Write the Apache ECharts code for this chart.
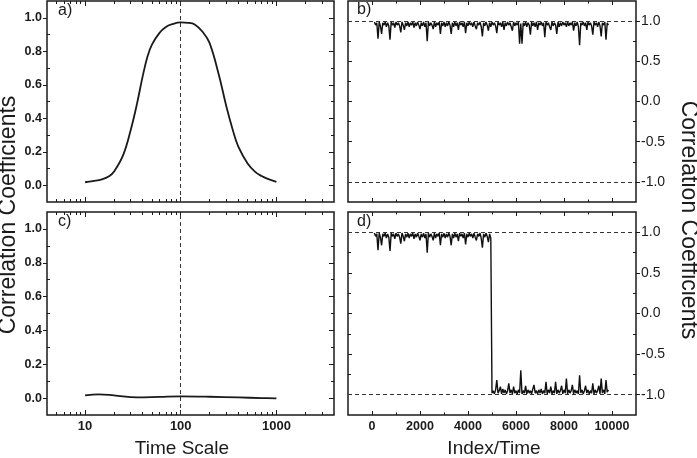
<!DOCTYPE html>
<html>
<head>
<meta charset="utf-8">
<script src="https://cdn.jsdelivr.net/npm/echarts@6/dist/echarts.min.js"></script>
<style>
html,body{margin:0;padding:0;background:#fff;}
#c{width:697px;height:458px;}
</style>
</head>
<body>
<div id="c"></div>
<script>
// ---- data ----
const aT = [10,12,15,18,20,25,30,35,40,45,50,60,70,80,100,120,140,170,200,250,300,350,400,500,600,700,800,1000];
const aV = [0.018,0.025,0.035,0.055,0.08,0.18,0.33,0.49,0.65,0.77,0.84,0.91,0.945,0.96,0.972,0.97,0.96,0.915,0.85,0.66,0.47,0.33,0.23,0.13,0.08,0.055,0.04,0.02];
const cT = [10,14,20,35,60,100,200,400,700,1000];
const cV = [0.016,0.022,0.016,0.004,0.007,0.01,0.008,0.004,0.0,-0.002];
const bStart = 100, bStep = 50;
const bV = [
 0.99,0.95,0.98,0.78,0.99,0.94,0.84,0.98,0.95,0.99,0.93,0.98,0.94,0.77,0.99,0.95,0.98,0.92,0.99,0.95,
 0.98,0.94,0.86,0.99,0.95,0.89,0.98,0.94,0.99,0.93,0.98,0.95,0.99,0.92,0.98,0.94,0.99,0.95,0.90,0.98,
 0.94,0.99,0.93,0.98,0.75,0.99,0.94,0.98,0.95,0.90,0.99,0.93,0.98,0.95,0.99,0.84,0.98,0.94,0.99,0.93,
 0.98,0.94,0.99,0.95,0.84,0.98,0.93,0.99,0.94,0.98,0.89,0.99,0.95,0.98,0.93,0.99,0.85,0.98,0.94,0.99,
 0.95,0.98,0.93,0.99,0.94,0.90,0.98,0.95,0.99,0.93,0.81,0.98,0.94,0.99,0.95,0.88,0.98,0.93,0.99,0.95,
 0.98,0.94,0.85,0.99,0.95,0.98,0.93,0.99,0.89,0.98,0.94,0.99,0.95,0.98,0.93,0.88,0.99,0.94,0.98,0.95,
 0.99,0.72,0.97,0.72,0.98,0.94,0.99,0.93,0.98,0.95,0.83,0.99,0.94,0.98,0.93,0.99,0.89,0.98,0.95,0.99,
 0.94,0.98,0.80,0.99,0.95,0.98,0.93,0.89,0.99,0.94,0.98,0.95,0.84,0.99,0.93,0.98,0.94,0.99,0.95,0.98,
 0.93,0.99,0.94,0.98,0.95,0.99,0.88,0.98,0.94,0.99,0.93,0.70,0.98,0.95,0.99,0.94,0.98,0.89,0.99,0.95,
 0.98,0.94,0.83,0.99,0.95,0.98,0.93,0.99,0.94,0.81,0.98,0.95,0.99,0.77,0.98,0.95
];
const dStart = 100, dStep = 50;
const dV = [
 0.99,0.95,0.98,0.78,0.99,0.94,0.84,0.98,0.95,0.99,0.93,0.98,0.94,0.77,0.99,0.95,0.98,0.92,0.99,0.95,
 0.98,0.94,0.86,0.99,0.95,0.89,0.98,0.94,0.99,0.93,0.98,0.95,0.99,0.92,0.98,0.94,0.99,0.95,0.90,0.98,
 0.94,0.99,0.93,0.98,0.75,0.99,0.94,0.98,0.95,0.90,0.99,0.93,0.98,0.95,0.99,0.84,0.98,0.94,0.99,0.93,
 0.98,0.94,0.99,0.95,0.84,0.98,0.93,0.99,0.94,0.98,0.89,0.99,0.95,0.98,0.93,0.99,0.85,0.98,0.94,0.99,
 0.95,0.98,0.93,0.99,0.94,0.90,0.98,0.95,0.99,0.93,0.81,0.98,0.94,0.99,0.95,0.88,0.98,0.93,-0.98,-0.95,
 -0.99,-0.94,-0.82,-0.98,-0.95,-0.90,-0.99,-0.93,-0.98,-0.94,-0.99,-0.95,-0.86,-0.98,-0.94,-0.99,-0.90,-0.98,-0.95,-0.99,
 -0.94,-0.98,-0.70,-0.99,-0.95,-0.98,-0.89,-0.99,-0.94,-0.98,-0.95,-0.99,-0.93,-0.88,-0.98,-0.95,-0.99,-0.94,-0.98,-0.93,
 -0.99,-0.95,-0.98,-0.84,-0.99,-0.94,-0.98,-0.90,-0.99,-0.95,-0.98,-0.84,-0.99,-0.94,-0.98,-0.95,-0.89,-0.99,-0.94,-0.98,
 -0.80,-0.99,-0.94,-0.98,-0.95,-0.88,-0.99,-0.94,-0.98,-0.95,-0.99,-0.76,-0.98,-0.94,-0.99,-0.95,-0.89,-0.98,-0.94,-0.99,
 -0.95,-0.98,-0.86,-0.99,-0.94,-0.98,-0.95,-0.89,-0.99,-0.80,-0.98,-0.94,-0.99,-0.82,-0.97,-0.94
];
// tick labels
const logMajor = [10,100,1000];
const logMinor = [5,6,7,8,9,20,30,40,50,60,70,80,90,200,300,400,500,600,700,800,900,2000,3000];
const idxMajor = [0,2000,4000,6000,8000,10000];
const idxMinor = [1000,3000,5000,7000,9000];
const leftMajor = [0,0.2,0.4,0.6,0.8,1.0];
const leftMinor = [0.1,0.3,0.5,0.7,0.9];
const rightMajor = [-1,-0.5,0,0.5,1];
const rightMinor = [-0.75,-0.25,0.25,0.75];

// ---- styling ----
const INK = '#1a1a1a';
const FONT = "'Liberation Sans', Arial, sans-serif";

function ax(grid, type, pos, min, max, ticks, len, inside, labels, lab) {
  const o = {
    type: type, gridIndex: grid, position: pos, min: min, max: max,
    axisLine: {show: false, onZero: false},
    splitLine: {show: false},
    minorTick: {show: false},
    axisTick: {show: true, customValues: ticks, length: len, inside: inside,
               lineStyle: {color: INK, width: 1}},
    axisLabel: labels ? Object.assign({show: true, customValues: labels, color: INK,
               fontFamily: FONT, hideOverlap: false}, lab) : {show: false}
  };
  if (type === 'log') o.logBase = 10;
  return o;
}
const boldLab = {fontSize: 13, fontWeight: 'bold', margin: 5};
const fmt1 = v => Number(v).toFixed(1);
const fmtInt = v => String(Math.round(v));

const xAxes = [], yAxes = [];
const X = {}, Y = {};
function addX(key, a) { X[key] = xAxes.length; xAxes.push(a); }
function addY(key, a) { Y[key] = yAxes.length; yAxes.push(a); }

// grids: 0=a, 1=b, 2=c, 3=d ; x tick labels only on the lower row
[0, 2].forEach(g => {
  addX('m' + g, ax(g, 'log', 'bottom', 4, 4000, logMajor, 5, true, g === 2 ? logMajor : null,
       Object.assign({}, boldLab, {formatter: fmtInt})));
  addX('n' + g, ax(g, 'log', 'bottom', 4, 4000, logMinor, 3, true));
  addX('t' + g, ax(g, 'log', 'top', 4, 4000, logMajor, 5, true));
  addX('u' + g, ax(g, 'log', 'top', 4, 4000, logMinor, 3, true));
  addY('m' + g, ax(g, 'value', 'left', -0.1, 1.1, leftMajor, 4, false, leftMajor,
       Object.assign({}, boldLab, {fontSize: 12.5, formatter: fmt1})));
  addY('n' + g, ax(g, 'value', 'left', -0.1, 1.1, leftMinor, 3, true));
  addY('r' + g, ax(g, 'value', 'right', -0.1, 1.1, leftMajor, 5, true));
  addY('s' + g, ax(g, 'value', 'right', -0.1, 1.1, leftMinor, 3, true));
});
[1, 3].forEach(g => {
  addX('m' + g, ax(g, 'value', 'bottom', -1000, 11000, idxMajor, 4, true, g === 3 ? idxMajor : null,
       Object.assign({}, boldLab, {fontSize: 12.5, formatter: fmtInt})));
  addX('n' + g, ax(g, 'value', 'bottom', -1000, 11000, idxMinor, 2.5, true));
  addX('t' + g, ax(g, 'value', 'top', -1000, 11000, idxMajor, 4, true));
  addX('u' + g, ax(g, 'value', 'top', -1000, 11000, idxMinor, 2.5, true));
  addY('m' + g, ax(g, 'value', 'right', -1.25, 1.25, rightMajor, 4, false, rightMajor,
       {fontSize: 14, margin: 5, formatter: fmt1}));
  addY('n' + g, ax(g, 'value', 'right', -1.25, 1.25, rightMinor, 3, true));
  addY('l' + g, ax(g, 'value', 'left', -1.25, 1.25, rightMajor, 4, true));
  addY('k' + g, ax(g, 'value', 'left', -1.25, 1.25, rightMinor, 3, true));
});

const gridBase = {show: true, borderColor: INK, borderWidth: 1.5, backgroundColor: 'transparent',
                  containLabel: false, outerBoundsMode: 'none'};
const grids = [
  Object.assign({left: 47, top: 1, width: 287, height: 201}, gridBase),
  Object.assign({left: 348, top: 1, width: 288, height: 201}, gridBase),
  Object.assign({left: 47, top: 212, width: 287, height: 203}, gridBase),
  Object.assign({left: 348, top: 212, width: 288, height: 203}, gridBase)
];

const dash = {type: [4, 3], color: '#333', width: 1};
function ml(data) {
  return {silent: true, symbol: 'none', label: {show: false}, lineStyle: dash, data: data,
          emphasis: {disabled: true}, animation: false};
}
const pairs = (xs, ys) => xs.map((x, i) => [x, ys[i]]);
const idxPairs = (start, step, ys) => ys.map((v, i) => [start + i * step, v]);

const series = [
  {type: 'line', xAxisIndex: X.m0, yAxisIndex: Y.m0, data: pairs(aT, aV), smooth: 0.4,
   showSymbol: false, lineStyle: {color: INK, width: 1.8}, markLine: ml([{xAxis: 100}])},
  {type: 'line', xAxisIndex: X.m2, yAxisIndex: Y.m2, data: pairs(cT, cV), smooth: 0.4,
   showSymbol: false, lineStyle: {color: INK, width: 1.8}, markLine: ml([{xAxis: 100}])},
  {type: 'line', xAxisIndex: X.m1, yAxisIndex: Y.m1, data: idxPairs(bStart, bStep, bV),
   showSymbol: false, lineStyle: {color: '#111', width: 1.4}, markLine: ml([{yAxis: 1}, {yAxis: -1}])},
  {type: 'line', xAxisIndex: X.m3, yAxisIndex: Y.m3, data: idxPairs(dStart, dStep, dV),
   showSymbol: false, lineStyle: {color: '#111', width: 1.4}, markLine: ml([{yAxis: 1}, {yAxis: -1}])}
];

function txt(text, x, y, size, opts) {
  return Object.assign({type: 'text', x: x, y: y, silent: true,
    style: {text: text, fill: INK, font: size + 'px ' + FONT,
            textAlign: (opts && opts.align) || 'left',
            textVerticalAlign: (opts && opts.valign) || 'top'}},
    opts && opts.rotation !== undefined ? {rotation: opts.rotation} : {});
}
const graphics = [
  txt('a)', 58, 3, 16),
  txt('b)', 357, 2, 16),
  txt('c)', 58, 214, 16),
  txt('d)', 357, 214, 16),
  txt('Time Scale', 182, 449, 19, {align: 'center', valign: 'middle'}),
  txt('Index/Time', 494, 449, 19, {align: 'center', valign: 'middle'}),
  txt('Correlation Coefficients', 9, 215, 23, {align: 'center', valign: 'middle', rotation: Math.PI / 2}),
  txt('Correlation Coefficients', 688, 220, 23, {align: 'center', valign: 'middle', rotation: -Math.PI / 2})
];

const chart = echarts.init(document.getElementById('c'), null, {renderer: 'canvas'});
chart.setOption({
  animation: false,
  backgroundColor: '#fff',
  grid: grids,
  xAxis: xAxes,
  yAxis: yAxes,
  series: series,
  graphic: graphics,
  tooltip: {show: false}
});
</script>
</body>
</html>
